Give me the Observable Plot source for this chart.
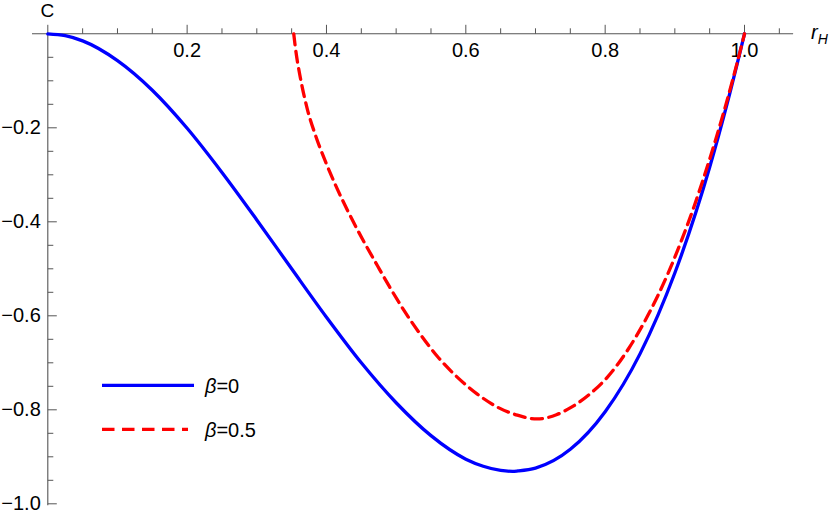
<!DOCTYPE html>
<html><head><meta charset="utf-8">
<script src="https://cdn.jsdelivr.net/npm/d3@7"></script>
<script src="https://cdn.jsdelivr.net/npm/@observablehq/plot@0.6"></script>
<style>html,body{margin:0;padding:0;background:#fff;}</style>
</head><body><div id="chart"></div>
<script>
// ---- data ----
const rBeta0 = [0, 0.025, 0.05, 0.1, 0.15, 0.2, 0.25, 0.3, 0.35, 0.4, 0.45, 0.5, 0.55, 0.6, 0.625, 0.65, 0.667, 0.675, 0.7, 0.75, 0.8, 0.85, 0.9, 0.95, 0.975, 1.0];
const cBeta0 = [0, -0.004, -0.015, -0.057, -0.120, -0.201, -0.295, -0.396, -0.500, -0.603, -0.700, -0.785, -0.855, -0.905, -0.920, -0.929, -0.931, -0.930, -0.924, -0.884, -0.804, -0.681, -0.509, -0.284, -0.149, 0];
const rBeta05 = [0.353, 0.3555, 0.3627, 0.3723, 0.3842, 0.3986, 0.413, 0.432, 0.451, 0.473, 0.490, 0.511, 0.535, 0.559, 0.588, 0.616, 0.645, 0.674, 0.702, 0.730, 0.751, 0.780, 0.803, 0.834, 0.861, 0.889, 0.910, 0.927, 0.945, 0.956, 0.970, 0.985, 1.0];
const cBeta05 = [0, -0.031, -0.095, -0.159, -0.216, -0.272, -0.322, -0.381, -0.435, -0.493, -0.537, -0.588, -0.640, -0.686, -0.731, -0.766, -0.794, -0.8115, -0.8195, -0.8105, -0.795, -0.764, -0.731, -0.669, -0.600, -0.514, -0.438, -0.370, -0.290, -0.238, -0.168, -0.087, 0];
const seriesNames = ["β=0", "β=0.5"];
const seriesColors = ["#0000ff", "#ff0000"];

const xMajorTicks = [0, 0.2, 0.4, 0.6, 0.8, 1.0];
const xTickValues = [0.2, 0.4, 0.6, 0.8, 1.0];
const xTickLabels = ["0.2", "0.4", "0.6", "0.8", "1.0"];
const xMinorTicks = [0.05, 0.1, 0.15, 0.25, 0.3, 0.35, 0.45, 0.5, 0.55, 0.65, 0.7, 0.75, 0.85, 0.9, 0.95, 1.05];
const yTickValues = [-0.2, -0.4, -0.6, -0.8, -1.0];
const yTickLabels = ["−0.2", "−0.4", "−0.6", "−0.8", "−1.0"];
const yMinorTicks = [-0.05, -0.1, -0.15, -0.25, -0.3, -0.35, -0.45, -0.5, -0.55, -0.65, -0.7, -0.75, -0.85, -0.9, -0.95];
const xAxisExtent = [-0.022, 1.0705];
const yAxisExtent = [0, -1.004];
const xLabel = "r", xLabelSub = "H", yLabel = "C";

// ---- styling ----
const FONT = "Liberation Sans, Arial, sans-serif";
const FS = 20;
const axisColor = "#555";
const tickUp = len => ({draw(ctx){ ctx.moveTo(0,0); ctx.lineTo(0,-len); }});
const tickRight = len => ({draw(ctx){ ctx.moveTo(0,0); ctx.lineTo(len,0); }});

const t0 = rBeta0.map((r,i) => ({r, c: cBeta0[i]}));
const t1 = rBeta05.map((r,i) => ({r, c: cBeta05[i]}));
const xl = xTickValues.map((v,i) => ({v, s: xTickLabels[i]}));
const yl = yTickValues.map((v,i) => ({v, s: yTickLabels[i]}));

const svg = Plot.plot({
  width: 830, height: 513,
  marginLeft: 47.3, marginRight: 86, marginTop: 33.3, marginBottom: 9.7,
  x: {domain: [0, 1], axis: null},
  y: {domain: [-1, 0], axis: null},
  style: {background: "white", fontFamily: FONT, overflow: "visible"},
  marks: [
    Plot.ruleY([0], {x1: xAxisExtent[0], x2: xAxisExtent[1], stroke: axisColor, strokeWidth: 1.1}),
    Plot.ruleX([0], {y1: yAxisExtent[0], y2: yAxisExtent[1], stroke: axisColor, strokeWidth: 1.1}),
    Plot.dot(xMajorTicks, {x: d => d, y: d => 0, symbol: tickUp(9), fill: "none", stroke: axisColor, strokeWidth: 1}),
    Plot.dot(xMinorTicks, {x: d => d, y: d => 0, symbol: tickUp(5.5), fill: "none", stroke: axisColor, strokeWidth: 1}),
    Plot.dot(yTickValues, {x: d => 0, y: d => d, symbol: tickRight(9), fill: "none", stroke: axisColor, strokeWidth: 1}),
    Plot.dot(yMinorTicks, {x: d => 0, y: d => d, symbol: tickRight(5.5), fill: "none", stroke: axisColor, strokeWidth: 1}),
    Plot.text(xl, {x: "v", y: d => 0, text: "s", dy: 16.3, fontSize: FS, fontFamily: FONT, fill: "#000"}),
    Plot.text(yl, {x: d => 0, y: "v", text: "s", dx: -7, textAnchor: "end", fontSize: FS, fontFamily: FONT, fill: "#000"}),
    Plot.line(t0, {x: "r", y: "c", stroke: seriesColors[0], strokeWidth: 3.3, curve: "monotone-x"}),
    Plot.line(t1, {x: "r", y: "c", stroke: seriesColors[1], strokeWidth: 3.3, strokeDasharray: "11,6.5", curve: "monotone-x"})
  ]
});

const g = d3.select(svg).append("g").attr("font-family", FONT).attr("font-size", FS).attr("text-anchor", "start").attr("fill", "#000");
// axis labels
g.append("text").attr("x", 47.3).attr("y", 16.5).attr("text-anchor", "middle").attr("font-size", 19).text(yLabel);
const rt = g.append("text").attr("x", 811).attr("y", 38.5);
rt.append("tspan").attr("font-style", "italic").text(xLabel);
rt.append("tspan").attr("font-style", "italic").attr("font-size", 14).attr("dy", 5).text(xLabelSub);
// legend
const legY = [385.3, 429.3];
const legX2 = [194, 188];
seriesNames.forEach((name, i) => {
  const ln = g.append("line").attr("x1", 102).attr("x2", legX2[i]).attr("y1", legY[i]).attr("y2", legY[i])
    .attr("stroke", seriesColors[i]).attr("stroke-width", 3.3);
  if (i === 1) ln.attr("stroke-dasharray", "12.5,7.5");
  const tx = g.append("text").attr("x", 205).attr("y", legY[i] + 7.8);
  tx.append("tspan").attr("font-style", "italic").text(name.slice(0,1));
  tx.append("tspan").text(name.slice(1));
});
document.getElementById("chart").appendChild(svg);
</script></body></html>
